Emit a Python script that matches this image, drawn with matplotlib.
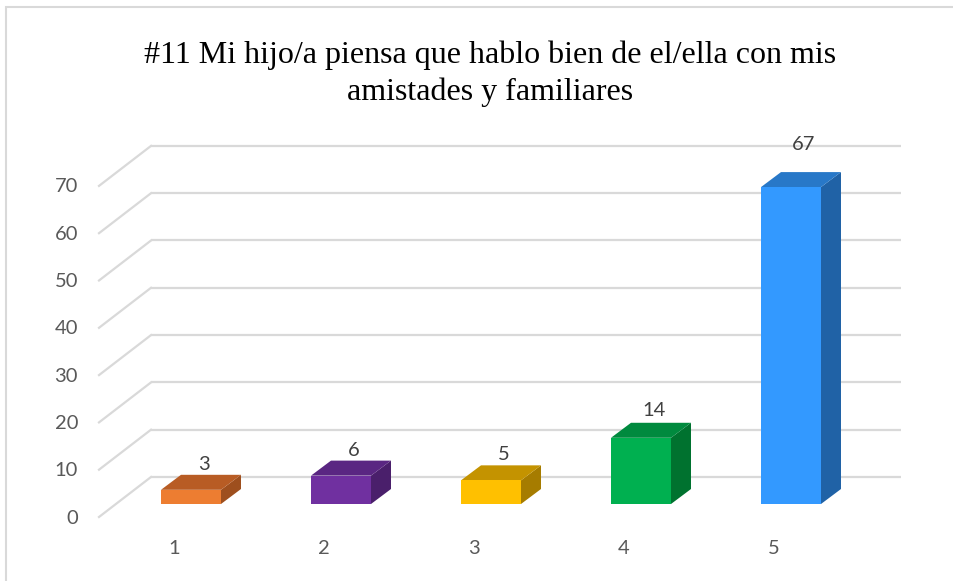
import matplotlib
matplotlib.use("Agg")
import matplotlib.pyplot as plt
from matplotlib.patches import Polygon, Rectangle

# ---------------- data ----------------
categories = ["1", "2", "3", "4", "5"]
values = [3, 6, 5, 14, 67]
y_ticks = [0, 10, 20, 30, 40, 50, 60, 70]
title_lines = ["#11 Mi hijo/a piensa que hablo bien de el/ella con mis",
               "amistades y familiares"]
front_colors = ["#ED7D31", "#7030A0", "#FFC000", "#00B050", "#3399FF"]
top_colors = ["#B85C24", "#5A2682", "#C49300", "#008A3E", "#2878C8"]
side_colors = ["#9E4F1E", "#4A1F6B", "#A67C00", "#00722F", "#2062A6"]

# ---------------- layout ----------------
W, H, DPI = 954, 581, 100
fig = plt.figure(figsize=(W / DPI, H / DPI), dpi=DPI)
ax = fig.add_axes([0, 0, 1, 1])

CAT1_PX, CAT_STEP_PX = 191.0, 150.0      # pixel x of category 1 (bar front plane), spacing
BASE_FROM_TOP, UNIT_PX = 504.0, 4.73     # pixel y of value 0 (bar front plane), px per unit
base = H - BASE_FROM_TOP
ax.set_xlim(1 - CAT1_PX / CAT_STEP_PX, 1 + (W - CAT1_PX) / CAT_STEP_PX)
ax.set_ylim(-base / UNIT_PX, (H - base) / UNIT_PX)
ax.axis("off")


def dx(px):
    return px / CAT_STEP_PX


def dy(px):
    return px / UNIT_PX


# depth offsets (pixels, display up = +)
BACK = (35, 27)      # back wall relative to bar front plane
FRONT = (-17, -13)   # front floor edge relative to bar front plane
DEPTH = (20, 15)     # bar depth
X_LO, X_HI = 0.5, len(categories) + 0.5
HALF_W = 0.2

grid_c = "#D9D9D9"
num_font = ["Lato", "DejaVu Sans"]
for v in y_ticks:
    ax.plot([X_LO + dx(BACK[0]), X_HI + dx(BACK[0])],
            [v + dy(BACK[1]), v + dy(BACK[1])],
            color=grid_c, lw=1.6, zorder=1, solid_capstyle="butt")
    ax.plot([X_LO + dx(FRONT[0]), X_LO + dx(BACK[0])],
            [v + dy(FRONT[1]), v + dy(BACK[1])],
            color=grid_c, lw=1.6, zorder=1)
    ax.text(X_LO + dx(FRONT[0] - 21), v + dy(FRONT[1]) - dy(1), str(v),
            ha="right", va="center", fontsize=14.5, color="#595959",
            family=num_font)

for i, (cat, v) in enumerate(zip(categories, values)):
    x = i + 1
    ddx, ddy = dx(DEPTH[0]), dy(DEPTH[1])
    # side face
    ax.add_patch(Polygon([(x + HALF_W, 0), (x + HALF_W, v),
                          (x + HALF_W + ddx, v + ddy), (x + HALF_W + ddx, ddy)],
                         closed=True, facecolor=side_colors[i], edgecolor="none", zorder=3))
    # top face
    ax.add_patch(Polygon([(x - HALF_W, v), (x + HALF_W, v),
                          (x + HALF_W + ddx, v + ddy), (x - HALF_W + ddx, v + ddy)],
                         closed=True, facecolor=top_colors[i], edgecolor="none", zorder=3))
    # front face
    ax.add_patch(Rectangle((x - HALF_W, 0), 2 * HALF_W, v,
                           facecolor=front_colors[i], edgecolor="none", zorder=4))
    # value label
    ax.text(x + dx(13), v + ddy + dy(9 + 0.27 * v), str(v),
            ha="center", va="center", fontsize=14.5, color="#404040",
            family=num_font, zorder=5)
    # category label
    ax.text(x + dx(FRONT[0]), dy(-44), cat,
            ha="center", va="center", fontsize=14.5, color="#595959",
            family=num_font)

# title
for k, line in enumerate(title_lines):
    fig.text(490.5 / W, 1 - (55 + 37 * k) / H, line, ha="center", va="center",
             fontsize=23, color="black", family="Liberation Serif")

# chart border (partially outside the image)
fig.patches.append(Rectangle((6 / W, -0.1), 1.2, 1 - 7 / H + 0.1,
                             transform=fig.transFigure, fill=False,
                             edgecolor="#D9D9D9", lw=1.5))

fig.savefig("out.png", dpi=DPI)
